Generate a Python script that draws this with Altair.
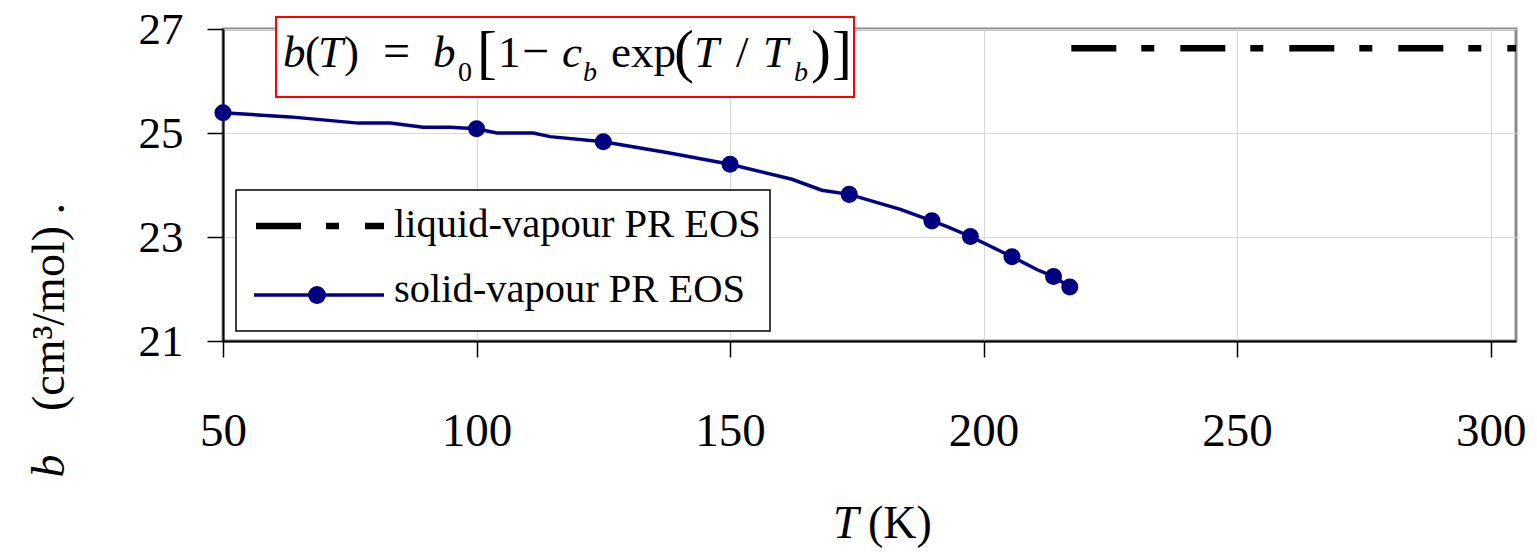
import altair as alt
import pandas as pd

# Co-volume b(T) of the solid-vapour PR EOS along the sublimation curve
solid_T = [50, 63.2, 76.7, 83, 89.5, 94.8, 100, 104, 111.2, 114.5, 125, 137.8, 150,
           162.2, 168.1, 173.5, 183.6, 189.8, 192.8, 197.4, 205.6, 210.6, 213.8, 217.0]
solid_b = [25.39, 25.31, 25.19, 25.19, 25.11, 25.11, 25.08, 25.00, 25.00, 24.93, 24.83,
           24.62, 24.40, 24.11, 23.90, 23.82, 23.53, 23.31, 23.20, 23.01, 22.62, 22.37,
           22.24, 22.04]
solid_marked = [True, False, False, False, False, False, True, False, False, False, True,
                False, True, False, False, True, False, True, False, True, True, False,
                True, True]

# Constant co-volume of the liquid-vapour PR EOS (triple point upwards)
liquid_T = [217.3, 305]
liquid_b = [26.63, 26.63]

x_ticks = [50, 100, 150, 200, 250, 300]
y_ticks = [21, 23, 25, 27]

SERIF = "Liberation Serif"
NAVY = "#000080"
DASH = [45, 25, 13, 26]

# plot-area geometry on the page
OX, OY, W, H = 223, 29, 1293, 312
PAGE_W, PAGE_H = 1537, 552

solid = pd.DataFrame({"T": solid_T, "b": solid_b, "marked": solid_marked})
liquid = pd.DataFrame({"T": liquid_T, "b": liquid_b})
one = pd.DataFrame({"k": [0]})

X = alt.X(
    "T:Q",
    scale=alt.Scale(domain=[50, 305], nice=False, zero=False),
    axis=alt.Axis(
        values=x_ticks, format="d", title=None, grid=True, gridColor="#d6d6d6", gridWidth=1,
        domainColor="black", domainWidth=2, tickColor="black", tickWidth=1.5, tickSize=16,
        labelFont=SERIF, labelFontSize=47, labelColor="black", labelPadding=88,
        labelBaseline="alphabetic", labelFlush=False, labelOverlap=False,
    ),
)
Y = alt.Y(
    "b:Q",
    scale=alt.Scale(domain=[21, 27], nice=False, zero=False),
    axis=alt.Axis(
        values=y_ticks, format="d", title=None, grid=True, gridColor="#d6d6d6", gridWidth=1,
        domainColor="black", domainWidth=2, tickColor="black", tickWidth=1.5, tickSize=16,
        labelFont=SERIF, labelFontSize=45, labelColor="black", labelPadding=24,
        labelOverlap=False,
    ),
)


def at(x, y):
    """Page pixel position -> offsets inside the plot area."""
    return {"x": alt.value(x - OX), "y": alt.value(y - OY)}


def txt(s, x, y, size, italic=False, align="left", angle=None):
    kw = dict(text=s, font=SERIF, fontSize=size, align=align, baseline="alphabetic",
              color="black")
    if italic:
        kw["fontStyle"] = "italic"
    if angle is not None:
        kw["angle"] = angle
    return alt.Chart(one).mark_text(**kw).encode(**at(x, y))


def box(x1, y1, x2, y2, stroke, width):
    return alt.Chart(one).mark_rect(fill="white", stroke=stroke, strokeWidth=width).encode(
        x=alt.value(x1 - OX), x2=alt.value(x2 - OX),
        y=alt.value(y1 - OY), y2=alt.value(y2 - OY),
    )


def hline(x1, x2, y, color, width, dash=None):
    kw = dict(color=color, strokeWidth=width, strokeCap="butt")
    if dash:
        kw["strokeDash"] = dash
    return alt.Chart(one).mark_rule(**kw).encode(
        x=alt.value(x1 - OX), x2=alt.value(x2 - OX), y=alt.value(y - OY)
    )


solid_line = alt.Chart(solid).mark_line(color=NAVY, strokeWidth=3.5).encode(x=X, y=Y)
solid_pts = (
    alt.Chart(solid)
    .transform_filter("datum.marked")
    .mark_point(filled=True, color=NAVY, size=290, opacity=1)
    .encode(x=X, y=Y)
)
liquid_line = alt.Chart(liquid).mark_line(
    color="black", strokeWidth=6.5, strokeDash=DASH, strokeCap="butt"
).encode(x=X, y=Y)

# legend
legend = [
    box(236, 190, 770, 331, "black", 1.5),
    hline(256, 384, 226, "black", 6.5, DASH),
    txt("liquid-vapour PR EOS", 394, 237, 40.5),
    hline(254, 384, 295, NAVY, 3.5),
    alt.Chart(one).mark_point(filled=True, color=NAVY, size=320, opacity=1).encode(**at(317, 295)),
    txt("solid-vapour PR EOS", 394, 302, 40.5),
]

# formula b(T) = b0 [1 - c_b exp(T / T_b)]
FB = 67
SB = 81
formula = [
    box(276, 17, 854, 97, "#ff0000", 2),
    txt("b", 283, FB, 45, italic=True),
    txt("(", 305, FB, 45),
    txt("T", 318, FB, 45, italic=True),
    txt(")", 344, FB, 45),
    txt("=", 383, FB, 48),
    txt("b", 433, FB, 45, italic=True),
    txt("0", 458, SB, 28),
    txt("[", 477, 72, 60),
    txt("1", 498, FB, 45),
    txt("\u2212", 522, FB, 48),
    txt("c", 562, FB, 45, italic=True),
    txt("b", 583, SB, 28, italic=True),
    txt("exp", 611, FB, 45),
    txt("(", 674, 71, 60),
    txt("T", 694, FB, 45, italic=True),
    txt("/", 736, FB, 45),
    txt("T", 763, FB, 45, italic=True),
    txt("b", 794, SB, 28, italic=True),
    txt(")", 811, 71, 60),
    txt("]", 832, 72, 60),
]

# axis titles
titles = [
    txt("T", 833, 538, 46, italic=True),
    txt("(K)", 868, 538, 46),
    txt("b", 64, 466, 46, italic=True, align="center", angle=270),
    txt("(cm\u00b3/mol) .", 64, 307, 46, align="center", angle=270),
]

chart = (
    alt.layer(solid_line, liquid_line, solid_pts, *legend, *formula, *titles)
    .properties(
        width=W,
        height=H,
        autosize=alt.AutoSizeParams(type="none"),
        padding={"left": OX, "top": OY, "right": PAGE_W - OX - W, "bottom": PAGE_H - OY - H},
        background="white",
    )
    .configure_view(stroke="#8c8c8c", strokeWidth=3)
)

chart.save("out.html", embed_options={"renderer": "svg", "actions": False})
